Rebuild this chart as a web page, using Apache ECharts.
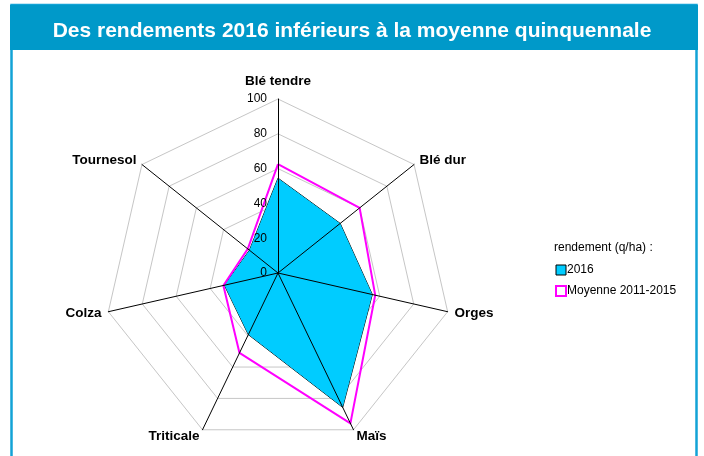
<!DOCTYPE html>
<html>
<head>
<meta charset="utf-8">
<script src="https://cdn.jsdelivr.net/npm/echarts@6/dist/echarts.min.js"></script>
<style>
  html, body { margin: 0; padding: 0; background: #fff; }
  #chart { width: 704px; height: 456px; }
</style>
</head>
<body>
<div id="chart"></div>
<script>
// cultures dans l'ordre horaire, en partant du haut
const cultures = ['Blé tendre', 'Blé dur', 'Orges', 'Maïs', 'Triticale', 'Colza', 'Tournesol']
const rendement2016 = [54.5, 45.7, 55.6, 85.7, 39.3, 31.6, 21]
const moyenne2011_2015 = [62.6, 60, 57.3, 95.9, 51, 32.2, 22.2]
const ticks = [0, 20, 40, 60, 80, 100]

const serieNames = ['2016', 'Moyenne 2011-2015']

// ECharts place les axes du radar dans le sens antihoraire : on inverse la suite
function toRadarOrder(list) {
  return [list[0], ...list.slice(1).reverse()]
}

const labelFont = { fontFamily: 'Liberation Sans, Arial, sans-serif' }

const baseIndicators = toRadarOrder(cultures).map((name) => ({
  name,
  min: ticks[0],
  max: ticks[ticks.length - 1]
}))

const chart = echarts.init(document.getElementById('chart'))

chart.setOption({
  backgroundColor: '#fff',
  animation: false,
  graphic: [
    {
      type: 'rect',
      shape: { x: 11.5, y: 5, width: 685, height: 470 },
      style: { fill: 'none', stroke: '#13a3d6', lineWidth: 2.5 },
      z: 0
    },
    {
      type: 'rect',
      shape: { x: 10, y: 5, width: 688, height: 45 },
      style: { fill: '#0099c9' },
      z: 0
    }
  ],
  title: [
    {
      text: 'Des rendements 2016 inférieurs à la moyenne quinquennale',
      left: 'center',
      top: 16,
      textStyle: { ...labelFont, color: '#fff', fontSize: 21, fontWeight: 'bold' }
    },
    {
      text: 'rendement (q/ha) :',
      left: 549,
      top: 237,
      textStyle: { ...labelFont, color: '#000', fontSize: 12, fontWeight: 'normal' }
    }
  ],
  legend: {
    orient: 'vertical',
    left: 550,
    top: 259,
    itemGap: 9,
    itemWidth: 10,
    itemHeight: 10,
    icon: 'rect',
    textStyle: { ...labelFont, color: '#000', fontSize: 12, padding: [0, 0, 0, -4] },
    data: [
      { name: serieNames[0], itemStyle: { color: '#00ccff', borderColor: '#000', borderWidth: 1 } },
      { name: serieNames[1], itemStyle: { color: '#fff', borderColor: '#ff00ff', borderWidth: 2 } }
    ]
  },
  radar: [
    {
      center: [278, 273],
      radius: 174,
      shape: 'polygon',
      splitNumber: ticks.length - 1,
      indicator: baseIndicators,
      axisName: { show: false },
      axisLine: { show: false },
      axisTick: { show: false },
      axisLabel: { show: false },
      splitLine: { lineStyle: { color: '#c6c6c6', width: 1 } },
      splitArea: { show: false },
      z: 1
    },
    {
      center: [278, 273],
      radius: 174,
      shape: 'polygon',
      splitNumber: ticks.length - 1,
      nameGap: 7,
      indicator: baseIndicators.map((item, i) => (i === 0
        ? { ...item, nameTextStyle: { padding: [0, 0, 4, 0] } }
        : { ...item, axisLabel: { show: false } })),
      axisName: { ...labelFont, color: '#000', fontSize: 13.5, fontWeight: 'bold' },
      axisLine: { lineStyle: { color: '#000', width: 1 } },
      axisTick: { show: false },
      axisLabel: {
        show: true,
        ...labelFont,
        color: '#000',
        fontSize: 12,
        margin: 11
      },
      splitLine: { show: false },
      splitArea: { show: false },
      z: 5
    }
  ],
  series: [
    {
      name: serieNames[0],
      type: 'radar',
      radarIndex: 0,
      symbol: 'none',
      z: 2,
      lineStyle: { color: '#000', width: 1 },
      itemStyle: { color: '#00ccff' },
      areaStyle: { color: '#00ccff', opacity: 1 },
      data: [{ name: serieNames[0], value: toRadarOrder(rendement2016) }]
    },
    {
      name: serieNames[1],
      type: 'radar',
      radarIndex: 0,
      symbol: 'none',
      z: 3,
      lineStyle: { color: '#ff00ff', width: 2 },
      itemStyle: { color: '#ff00ff' },
      data: [{ name: serieNames[1], value: toRadarOrder(moyenne2011_2015) }]
    }
  ]
})
</script>
</body>
</html>
